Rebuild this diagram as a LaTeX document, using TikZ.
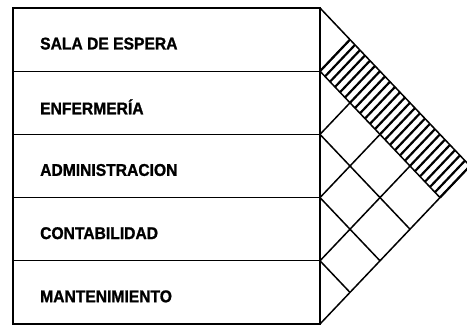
\documentclass[tikz,border=0pt]{standalone}
\usepackage{fontspec}
\newfontfamily\roomfont{Liberation Sans}[FakeStretch=0.92,
    BoldFeatures={FakeBold=1.2}]

\begin{document}
\begin{tikzpicture}[x=1pt, y=-1pt,
    boxline/.style={black, line width=1.8pt},
    rowline/.style={black, line width=1.3pt},
    gridline/.style={black, line width=1.5pt},
    hatchline/.style={black, line width=2.2pt},
    roomlabel/.style={anchor=west, inner sep=0pt,
        font=\roomfont\bfseries\fontsize{17}{17}\selectfont}]

    \clip (0,0) rectangle (467,328);

    % Corners of the rows
    \foreach \k in {0,...,5} {
        \coordinate (l\k) at (13, 8+63.2*\k);
        \coordinate (r\k) at (320, 8+63.2*\k);
    }
    \coordinate (apex) at (320+5*30, 8+5*31.6);

    % Hatched band (all pairs with the first room)
    \foreach \s in {0,0.1666,...,4} {
        \draw[hatchline] (320+\s*30, 8+2*31.6+\s*31.6)
            -- (320+\s*30+30, 8+\s*31.6+31.6);
    }

    % List of rooms
    \draw[boxline] (l0) rectangle (r5);
    \foreach \k in {1,...,4} {
        \draw[rowline] (l\k) -- (r\k);
    }
    \draw[black, line width=2.4pt] (r0) -- (r5);

    \foreach \name/\txt [count=\i from 0] in {sala/SALA DE ESPERA,
        enfermeria/ENFERMERÍA, admin/ADMINISTRACION,
        contab/CONTABILIDAD, mant/MANTENIMIENTO} {
        \node[roomlabel] (\name) at (40, 43.6+63.2*\i) {\txt};
    }

    % Outline of the chart
    \draw[gridline] (r0) -- (apex) -- (r5);
    \draw[gridline] (r1) -- ++(30, -31.6);
    \draw[gridline] (r1) -- ++(4*30, 4*31.6);

    % Diamonds below the band
    \foreach \k in {2,3,4} {
        \draw[gridline] (r\k) -- ++({(5-\k)*30}, {(5-\k)*31.6});
        \draw[gridline] (r\k) -- ++({(\k-1)*30}, {-(\k-1)*31.6});
    }

\end{tikzpicture}
\end{document}
